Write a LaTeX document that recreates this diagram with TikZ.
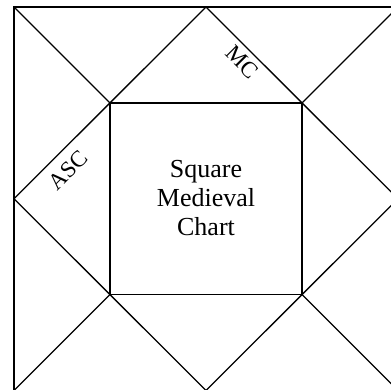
\documentclass[tikz,border=0pt]{standalone}
\usepackage{fontspec}
\setmainfont{Liberation Serif}
\begin{document}
\begin{tikzpicture}[x=1pt,y=-1pt,
  frame/.style={line width=1.6pt},
  diag/.style={line width=1.3pt},
  lbl/.style={inner sep=0pt,font=\fontsize{23}{27}\selectfont},
  ctext/.style={align=center,inner sep=0pt,font=\fontsize{26}{29}\selectfont}]
\useasboundingbox (0,0) rectangle (391,390);
% outer corners
\coordinate (OTL) at (14,7);
\coordinate (OTR) at (398,7);
\coordinate (OBR) at (398,390.5);
\coordinate (OBL) at (14,390.5);
% midpoints of outer sides
\coordinate (MT) at (206,7);
\coordinate (MR) at (398,198.75);
\coordinate (MB) at (206,390.5);
\coordinate (ML) at (14,198.75);
% inner corners
\coordinate (ITL) at (110,103);
\coordinate (ITR) at (302,103);
\coordinate (IBR) at (302,294.5);
\coordinate (IBL) at (110,294.5);
% frames
\draw[frame] (OTL) -- (OTR) -- (OBR) -- (OBL) -- cycle;
\draw[frame] (ITL) -- (ITR) -- (IBR) -- (IBL) -- cycle;
% diamond
\draw[diag] (MT) -- (MR) -- (MB) -- (ML) -- cycle;
% corner diagonals
\draw[diag] (OTL) -- (ITL);
\draw[diag] (OTR) -- (ITR);
\draw[diag] (OBR) -- (IBR);
\draw[diag] (OBL) -- (IBL);
% texts
\node[ctext] (center) at (206,198) {Square\\Medieval\\Chart};
\node[lbl,rotate=45] (asc) at (68,170) {ASC};
\node[lbl,rotate=-45] (mc) at (242,62) {MC};
\end{tikzpicture}
\end{document}
